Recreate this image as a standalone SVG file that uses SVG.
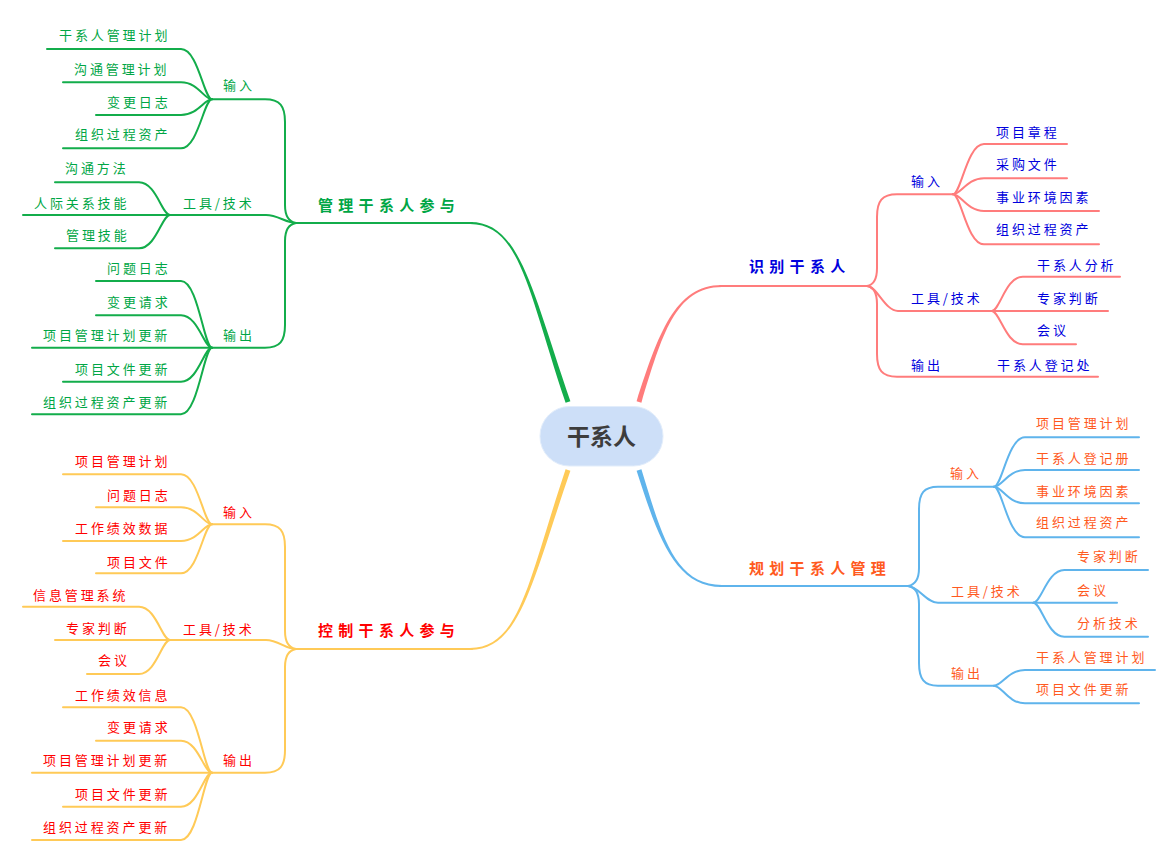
<svg xmlns="http://www.w3.org/2000/svg" width="1176" height="862" viewBox="0 0 1176 862">
<style>
text{font-family:"Noto Sans CJK SC","Noto Sans",sans-serif;font-size:13px;letter-spacing:2.9px}
.m{font-size:15px;font-weight:bold;letter-spacing:5.3px}
.tg{fill:#00a645}.tb{fill:#0000dd}.tr{fill:#ff0000}.to{fill:#ff5a1e}
.c path{fill:none;stroke-width:2;stroke-linecap:round}
.lg path{stroke:#13ad4b}.lr path{stroke:#ff7c7c}.ly path{stroke:#ffca57}.lb path{stroke:#5fb4ec}
</style>
<rect width="1176" height="862" fill="#ffffff"/>
<g id="connectors" class="c">
<g class="lg">
<path d="M570.4,401.2 C531.9,289.4 520,221.8 470,222 L470,224 C520,224.2 528.1,290.6 565.6,402.8 Z" fill="#13ad4b" stroke="none" style="fill:#13ad4b;stroke:none"/>
<path d="M472,223 H296"/>
<path d="M296,223 C290,222 285,217 285,205 L285,122 C285,106 280,99.3 265,99.3 L212,99.3"/>
<path d="M296,223 C286,223 278,215 266,215 L170,215"/>
<path d="M296,223 C290,224 285,229 285,241 L285,325 C285,341 280,347.7 265,347.7 L212,347.7"/>
<path d="M212,99.3 C204,99.3 198,49 181,49 H47"/>
<path d="M212,99.3 C204,99.3 198,82.3 181,82.3 H63"/>
<path d="M212,99.3 C204,99.3 198,115 181,115 H96"/>
<path d="M212,99.3 C204,99.3 198,148.3 181,148.3 H63"/>
<path d="M170,215 C162,215 156,182.3 139,182.3 H55"/>
<path d="M170,215 H23"/>
<path d="M170,215 C162,215 156,248.3 139,248.3 H55"/>
<path d="M212,347.7 C204,347.7 198,281 181,281 H96"/>
<path d="M212,347.7 C204,347.7 198,315.3 181,315.3 H96"/>
<path d="M212,347.7 H32"/>
<path d="M212,347.7 C204,347.7 198,381.7 181,381.7 H63"/>
<path d="M212,347.7 C204,347.7 198,414.3 181,414.3 H32"/>
</g>
<g class="ly">
<path d="M570.4,470.8 C531.9,582.6 520,650.2 470,650 L470,648 C520,647.8 528.1,581.4 565.6,469.2 Z" style="fill:#ffca57;stroke:none"/>
<path d="M472,649 H296"/>
<path d="M296,649 C290,648 285,643 285,631 L285,547 C285,531 280,524.3 265,524.3 L212,524.3"/>
<path d="M296,649 C286,649 278,640 266,640 L170,640"/>
<path d="M296,649 C290,650 285,655 285,667 L285,750 C285,766 280,772.7 265,772.7 L212,772.7"/>
<path d="M212,524.3 C204,524.3 198,474.3 181,474.3 H63"/>
<path d="M212,524.3 C204,524.3 198,507.3 181,507.3 H96"/>
<path d="M212,524.3 C204,524.3 198,541 181,541 H63"/>
<path d="M212,524.3 C204,524.3 198,573.3 181,573.3 H96"/>
<path d="M170,640 C162,640 156,606.7 139,606.7 H23"/>
<path d="M170,640 H55"/>
<path d="M170,640 C162,640 156,674 139,674 H87"/>
<path d="M212,772.7 C204,772.7 198,707.3 181,707.3 H63"/>
<path d="M212,772.7 C204,772.7 198,740.7 181,740.7 H96"/>
<path d="M212,772.7 H32"/>
<path d="M212,772.7 C204,772.7 198,806.7 181,806.7 H63"/>
<path d="M212,772.7 C204,772.7 198,840 181,840 H32"/>
</g>
<g class="lr">
<path d="M641.4,402.7 C661.9,335.6 675,287.2 722,287 L722,285 C675,284.8 658.1,334.4 636.6,401.3 Z" style="fill:#ff7c7c;stroke:none"/>
<path d="M720,286 H867"/>
<path d="M867,286 C873,285 877,280 877,268 L877,217 C877,201 882,194.3 897,194.3 L953,194.3"/>
<path d="M867,286 C877,286 885,311 898,311 L991.7,311"/>
<path d="M867,286 C873,287 877,292 877,304 L877,354 C877,370 882,376.7 897,376.7 L1098,376.7"/>
<path d="M953,194.3 C961,194.3 967,144 984,144 H1067"/>
<path d="M953,194.3 C961,194.3 967,178.3 984,178.3 H1067"/>
<path d="M953,194.3 C961,194.3 967,211 984,211 H1099"/>
<path d="M953,194.3 C961,194.3 967,244.3 984,244.3 H1099"/>
<path d="M991.7,311 C999.7,311 1005.7,276.7 1022.7,276.7 H1120"/>
<path d="M991.7,311 H1108"/>
<path d="M991.7,311 C999.7,311 1005.7,344.3 1022.7,344.3 H1076"/>
</g>
<g class="lb">
<path d="M641.4,469.3 C661.9,536.4 675,584.8 722,585 L722,587 C675,587.2 658.1,537.6 636.6,470.7 Z" style="fill:#5fb4ec;stroke:none"/>
<path d="M720,586 H908"/>
<path d="M908,586 C914,585 919,580 919,568 L919,509 C919,493 924,486.7 938,486.7 L994,486.7"/>
<path d="M908,586 C918,586 926,602.7 938,602.7 L1033.3,602.7"/>
<path d="M908,586 C914,587 919,592 919,604 L919,663 C919,679 924,685.7 938,685.7 L994,685.7"/>
<path d="M994,486.7 C1002,486.7 1008,437.3 1025,437.3 H1139"/>
<path d="M994,486.7 C1002,486.7 1008,470 1025,470 H1139"/>
<path d="M994,486.7 C1002,486.7 1008,503.3 1025,503.3 H1139"/>
<path d="M994,486.7 C1002,486.7 1008,537.3 1025,537.3 H1139"/>
<path d="M1033.3,602.7 C1041.3,602.7 1047.3,570 1064.3,570 H1148"/>
<path d="M1033.3,602.7 H1117"/>
<path d="M1033.3,602.7 C1041.3,602.7 1047.3,636.7 1064.3,636.7 H1148"/>
<path d="M994,685.7 C1002,685.7 1008,670 1025,670 H1155"/>
<path d="M994,685.7 C1002,685.7 1008,703.3 1025,703.3 H1139"/>
</g>
</g>
<g id="root">
<rect x="540" y="406.5" width="123" height="59.5" rx="29.5" fill="#cddff8" stroke="#e2edfb" stroke-width="1"/>
<text x="601.5" y="445" text-anchor="middle" style="font-size:23px;font-weight:bold;letter-spacing:0;fill:#3d3d3d">干系人</text>
</g>
<g id="n-manage"><text class="m tg" x="318" y="211.2">管理干系人参与</text></g>
<g id="n-manage-in"><text class="tg" x="223" y="89.8">输入</text></g>
<g id="n-manage-in-1"><text class="tg" x="59" y="40">干系人管理计划</text></g>
<g id="n-manage-in-2"><text class="tg" x="74" y="74">沟通管理计划</text></g>
<g id="n-manage-in-3"><text class="tg" x="107" y="107">变更日志</text></g>
<g id="n-manage-in-4"><text class="tg" x="75" y="139">组织过程资产</text></g>
<g id="n-manage-tool"><text class="tg" x="183" y="207.5">工具/技术</text></g>
<g id="n-manage-tool-1"><text class="tg" x="65" y="172.8">沟通方法</text></g>
<g id="n-manage-tool-2"><text class="tg" x="34" y="207.5">人际关系技能</text></g>
<g id="n-manage-tool-3"><text class="tg" x="66" y="239.8">管理技能</text></g>
<g id="n-manage-out"><text class="tg" x="223" y="339.8">输出</text></g>
<g id="n-manage-out-1"><text class="tg" x="107" y="273">问题日志</text></g>
<g id="n-manage-out-2"><text class="tg" x="107" y="306.5">变更请求</text></g>
<g id="n-manage-out-3"><text class="tg" x="43" y="339.8">项目管理计划更新</text></g>
<g id="n-manage-out-4"><text class="tg" x="75" y="373.8">项目文件更新</text></g>
<g id="n-manage-out-5"><text class="tg" x="43" y="406.5">组织过程资产更新</text></g>

<g id="n-control"><text class="m tr" x="318" y="635.7">控制干系人参与</text></g>
<g id="n-control-in"><text class="tr" x="223" y="516.5">输入</text></g>
<g id="n-control-in-1"><text class="tr" x="75" y="465.8">项目管理计划</text></g>
<g id="n-control-in-2"><text class="tr" x="107" y="499.8">问题日志</text></g>
<g id="n-control-in-3"><text class="tr" x="75" y="533.1">工作绩效数据</text></g>
<g id="n-control-in-4"><text class="tr" x="107" y="566.5">项目文件</text></g>
<g id="n-control-tool"><text class="tr" x="183" y="634.1">工具/技术</text></g>
<g id="n-control-tool-1"><text class="tr" x="33" y="599.8">信息管理系统</text></g>
<g id="n-control-tool-2"><text class="tr" x="66" y="633.1">专家判断</text></g>
<g id="n-control-tool-3"><text class="tr" x="98" y="664.8">会议</text></g>
<g id="n-control-out"><text class="tr" x="223" y="764.8">输出</text></g>
<g id="n-control-out-1"><text class="tr" x="75" y="699.8">工作绩效信息</text></g>
<g id="n-control-out-2"><text class="tr" x="107" y="732.1">变更请求</text></g>
<g id="n-control-out-3"><text class="tr" x="43" y="764.8">项目管理计划更新</text></g>
<g id="n-control-out-4"><text class="tr" x="75" y="798.8">项目文件更新</text></g>
<g id="n-control-out-5"><text class="tr" x="43" y="831.5">组织过程资产更新</text></g>

<g id="n-identify"><text class="m tb" x="749" y="272.4">识别干系人</text></g>
<g id="n-identify-in"><text class="tb" x="911" y="185.5">输入</text></g>
<g id="n-identify-in-1"><text class="tb" x="996" y="136.5">项目章程</text></g>
<g id="n-identify-in-2"><text class="tb" x="996" y="168.8">采购文件</text></g>
<g id="n-identify-in-3"><text class="tb" x="996" y="202.1">事业环境因素</text></g>
<g id="n-identify-in-4"><text class="tb" x="996" y="234.1">组织过程资产</text></g>
<g id="n-identify-tool"><text class="tb" x="911" y="302.5">工具/技术</text></g>
<g id="n-identify-tool-1"><text class="tb" x="1037" y="269.8">干系人分析</text></g>
<g id="n-identify-tool-2"><text class="tb" x="1037" y="303.1">专家判断</text></g>
<g id="n-identify-tool-3"><text class="tb" x="1037" y="334.8">会议</text></g>
<g id="n-identify-out"><text class="tb" x="911" y="369.8">输出</text></g>
<g id="n-identify-out-1"><text class="tb" x="997" y="369.8">干系人登记处</text></g>

<g id="n-plan"><text class="m to" x="749" y="574">规划干系人管理</text></g>
<g id="n-plan-in"><text class="to" x="950" y="478.1">输入</text></g>
<g id="n-plan-in-1"><text class="to" x="1036" y="428.1">项目管理计划</text></g>
<g id="n-plan-in-2"><text class="to" x="1036" y="462.5">干系人登记册</text></g>
<g id="n-plan-in-3"><text class="to" x="1036" y="495.8">事业环境因素</text></g>
<g id="n-plan-in-4"><text class="to" x="1036" y="527.1">组织过程资产</text></g>
<g id="n-plan-tool"><text class="to" x="951" y="595.5">工具/技术</text></g>
<g id="n-plan-tool-1"><text class="to" x="1077" y="560.8">专家判断</text></g>
<g id="n-plan-tool-2"><text class="to" x="1077" y="594.8">会议</text></g>
<g id="n-plan-tool-3"><text class="to" x="1077" y="628.1">分析技术</text></g>
<g id="n-plan-out"><text class="to" x="951" y="678.1">输出</text></g>
<g id="n-plan-out-1"><text class="to" x="1036" y="661.5">干系人管理计划</text></g>
<g id="n-plan-out-2"><text class="to" x="1036" y="693.8">项目文件更新</text></g>
</svg>
